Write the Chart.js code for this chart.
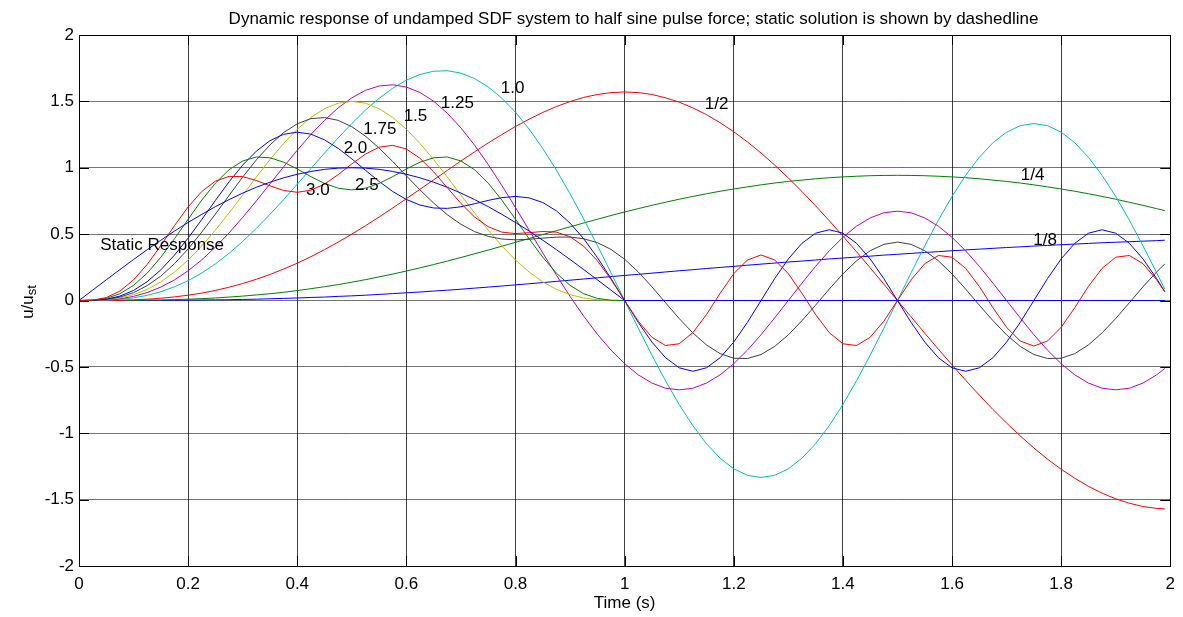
<!DOCTYPE html>
<html>
<head>
<meta charset="utf-8">
<title>Half sine pulse response</title>
<script src="https://cdn.jsdelivr.net/npm/chart.js@4.4.1/dist/chart.umd.min.js"></script>
<style>
  body { margin: 0; background: #fff; }
  #wrap { width: 1183px; height: 617px; }
</style>
</head>
<body>
<div id="wrap"><canvas id="chart"></canvas></div>
<script>
// Tiempo (s)
const times = [0, 0.025, 0.05, 0.075, 0.1, 0.125, 0.15, 0.175, 0.2, 0.225, 0.25, 0.275, 0.3, 0.325, 0.35, 0.375, 0.4, 0.425, 0.45, 0.475,
  0.5, 0.525, 0.55, 0.575, 0.6, 0.625, 0.65, 0.675, 0.7, 0.725, 0.75, 0.775, 0.8, 0.825, 0.85, 0.875, 0.9, 0.925, 0.95, 0.975,
  1, 1.025, 1.05, 1.075, 1.1, 1.125, 1.15, 1.175, 1.2, 1.225, 1.25, 1.275, 1.3, 1.325, 1.35, 1.375, 1.4, 1.425, 1.45, 1.475,
  1.5, 1.525, 1.55, 1.575, 1.6, 1.625, 1.65, 1.675, 1.7, 1.725, 1.75, 1.775, 1.8, 1.825, 1.85, 1.875, 1.9, 1.925, 1.95, 1.975, 1.99];

// u/ust para cada td/Tn
const r18 = [0, 0, 0, 0, 0, 0.001, 0.001, 0.002, 0.003, 0.004, 0.005, 0.006, 0.008, 0.010, 0.013, 0.016, 0.019, 0.023, 0.026, 0.031,
  0.035, 0.040, 0.046, 0.052, 0.058, 0.064, 0.071, 0.078, 0.085, 0.093, 0.101, 0.109, 0.118, 0.126, 0.135, 0.144, 0.153, 0.162, 0.171, 0.180,
  0.189, 0.197, 0.206, 0.215, 0.224, 0.232, 0.241, 0.249, 0.257, 0.266, 0.274, 0.282, 0.290, 0.297, 0.305, 0.313, 0.320, 0.327, 0.334, 0.342,
  0.348, 0.355, 0.362, 0.368, 0.375, 0.381, 0.387, 0.393, 0.399, 0.404, 0.410, 0.415, 0.420, 0.425, 0.430, 0.435, 0.439, 0.443, 0.447, 0.451, 0.454];
const r14 = [0, 0, 0, 0.001, 0.001, 0.003, 0.004, 0.007, 0.010, 0.014, 0.019, 0.026, 0.033, 0.042, 0.051, 0.062, 0.075, 0.089, 0.104, 0.120,
  0.138, 0.157, 0.178, 0.199, 0.222, 0.246, 0.271, 0.297, 0.324, 0.352, 0.380, 0.409, 0.438, 0.467, 0.497, 0.526, 0.555, 0.584, 0.612, 0.640,
  0.667, 0.692, 0.717, 0.740, 0.763, 0.784, 0.804, 0.823, 0.840, 0.856, 0.871, 0.885, 0.897, 0.907, 0.917, 0.925, 0.931, 0.936, 0.940, 0.942,
  0.943, 0.942, 0.940, 0.936, 0.931, 0.925, 0.917, 0.907, 0.897, 0.885, 0.871, 0.856, 0.840, 0.823, 0.804, 0.784, 0.763, 0.740, 0.717, 0.692, 0.677];
const r12 = [0, 0, 0.001, 0.002, 0.005, 0.010, 0.017, 0.027, 0.040, 0.056, 0.076, 0.100, 0.128, 0.160, 0.196, 0.237, 0.281, 0.330, 0.383, 0.440,
  0.500, 0.563, 0.629, 0.697, 0.767, 0.838, 0.909, 0.980, 1.051, 1.120, 1.187, 1.250, 1.311, 1.366, 1.417, 1.461, 1.499, 1.530, 1.552, 1.566,
  1.571, 1.566, 1.552, 1.527, 1.494, 1.451, 1.400, 1.339, 1.271, 1.195, 1.111, 1.020, 0.923, 0.821, 0.713, 0.601, 0.485, 0.367, 0.246, 0.123,
  0, -0.123, -0.246, -0.367, -0.485, -0.601, -0.713, -0.821, -0.923, -1.020, -1.111, -1.195, -1.271, -1.339, -1.400, -1.451, -1.494, -1.527, -1.552, -1.566, -1.570];
const r10 = [0, 0, 0.003, 0.009, 0.020, 0.039, 0.066, 0.103, 0.150, 0.207, 0.276, 0.355, 0.445, 0.543, 0.649, 0.760, 0.876, 0.994, 1.111, 1.225,
  1.333, 1.434, 1.523, 1.599, 1.660, 1.703, 1.727, 1.731, 1.713, 1.672, 1.609, 1.524, 1.418, 1.291, 1.145, 0.982, 0.804, 0.614, 0.415, 0.209,
  0, -0.209, -0.412, -0.605, -0.784, -0.943, -1.079, -1.188, -1.268, -1.317, -1.333, -1.317, -1.268, -1.188, -1.079, -0.943, -0.784, -0.605, -0.412, -0.209,
  0, 0.209, 0.412, 0.605, 0.784, 0.943, 1.079, 1.188, 1.268, 1.317, 1.333, 1.317, 1.268, 1.188, 1.079, 0.943, 0.784, 0.605, 0.412, 0.209, 0.084];
const r125 = [0, 0.001, 0.004, 0.013, 0.031, 0.060, 0.101, 0.155, 0.224, 0.306, 0.402, 0.509, 0.626, 0.750, 0.879, 1.007, 1.132, 1.251, 1.358, 1.451,
  1.527, 1.583, 1.616, 1.625, 1.608, 1.567, 1.501, 1.411, 1.300, 1.170, 1.024, 0.866, 0.700, 0.529, 0.358, 0.191, 0.031, -0.118, -0.254, -0.374,
  -0.476, -0.560, -0.622, -0.661, -0.673, -0.661, -0.622, -0.560, -0.476, -0.374, -0.258, -0.131, 0, 0.131, 0.258, 0.374, 0.476, 0.560, 0.622, 0.661,
  0.673, 0.661, 0.622, 0.560, 0.476, 0.374, 0.258, 0.131, 0, -0.131, -0.258, -0.374, -0.476, -0.560, -0.622, -0.661, -0.673, -0.661, -0.622, -0.560, -0.512];
const r15 = [0, 0.001, 0.006, 0.019, 0.044, 0.084, 0.140, 0.214, 0.305, 0.411, 0.530, 0.660, 0.794, 0.930, 1.061, 1.183, 1.290, 1.379, 1.445, 1.486,
  1.500, 1.486, 1.445, 1.379, 1.290, 1.183, 1.061, 0.930, 0.794, 0.660, 0.530, 0.411, 0.305, 0.214, 0.140, 0.084, 0.044, 0.019, 0.006, 0.001,
  0, 0, 0, 0, 0, 0, 0, 0, 0, 0, 0, 0, 0, 0, 0, 0, 0, 0, 0, 0,
  0, 0, 0, 0, 0, 0, 0, 0, 0, 0, 0, 0, 0, 0, 0, 0, 0, 0, 0, 0, 0];
const r175 = [0, 0.001, 0.008, 0.026, 0.059, 0.112, 0.184, 0.277, 0.388, 0.515, 0.651, 0.791, 0.930, 1.059, 1.172, 1.265, 1.331, 1.370, 1.378, 1.357,
  1.309, 1.238, 1.148, 1.047, 0.939, 0.833, 0.734, 0.646, 0.574, 0.519, 0.483, 0.463, 0.457, 0.461, 0.470, 0.477, 0.478, 0.465, 0.436, 0.385,
  0.311, 0.215, 0.103, -0.017, -0.136, -0.244, -0.335, -0.400, -0.435, -0.437, -0.407, -0.346, -0.259, -0.152, -0.035, 0.086, 0.200, 0.299, 0.375, 0.423,
  0.440, 0.423, 0.375, 0.299, 0.200, 0.086, -0.035, -0.152, -0.259, -0.346, -0.407, -0.437, -0.435, -0.400, -0.335, -0.244, -0.136, -0.017, 0.103, 0.215, 0.275];
const r20 = [0, 0.001, 0.010, 0.033, 0.076, 0.142, 0.231, 0.342, 0.470, 0.610, 0.754, 0.894, 1.020, 1.125, 1.204, 1.252, 1.268, 1.253, 1.210, 1.146,
  1.067, 0.981, 0.897, 0.821, 0.761, 0.719, 0.697, 0.694, 0.706, 0.729, 0.754, 0.775, 0.784, 0.773, 0.738, 0.675, 0.583, 0.465, 0.324, 0.166,
  0, -0.165, -0.313, -0.431, -0.507, -0.533, -0.507, -0.431, -0.313, -0.165, 0, 0.165, 0.313, 0.431, 0.507, 0.533, 0.507, 0.431, 0.313, 0.165,
  0, -0.165, -0.313, -0.431, -0.507, -0.533, -0.507, -0.431, -0.313, -0.165, 0, 0.165, 0.313, 0.431, 0.507, 0.533, 0.507, 0.431, 0.313, 0.165, 0.067];
const r25 = [0, 0.002, 0.016, 0.051, 0.114, 0.206, 0.326, 0.465, 0.612, 0.756, 0.884, 0.985, 1.051, 1.081, 1.075, 1.042, 0.991, 0.933, 0.882, 0.846,
  0.833, 0.846, 0.882, 0.933, 0.991, 1.042, 1.075, 1.081, 1.051, 0.985, 0.884, 0.756, 0.612, 0.465, 0.326, 0.206, 0.114, 0.051, 0.016, 0.002,
  0, 0, 0, 0, 0, 0, 0, 0, 0, 0, 0, 0, 0, 0, 0, 0, 0, 0, 0, 0,
  0, 0, 0, 0, 0, 0, 0, 0, 0, 0, 0, 0, 0, 0, 0, 0, 0, 0, 0, 0, 0];
const r30 = [0, 0.003, 0.022, 0.071, 0.155, 0.272, 0.414, 0.564, 0.705, 0.821, 0.899, 0.935, 0.933, 0.904, 0.864, 0.829, 0.815, 0.831, 0.877, 0.948,
  1.029, 1.103, 1.155, 1.169, 1.141, 1.071, 0.969, 0.850, 0.731, 0.629, 0.556, 0.515, 0.504, 0.511, 0.520, 0.515, 0.481, 0.409, 0.300, 0.159,
  0, -0.156, -0.277, -0.339, -0.326, -0.242, -0.106, 0.054, 0.202, 0.305, 0.343, 0.305, 0.202, 0.054, -0.106, -0.242, -0.326, -0.339, -0.277, -0.156,
  0, 0.156, 0.277, 0.339, 0.326, 0.242, 0.106, -0.054, -0.202, -0.305, -0.343, -0.305, -0.202, -0.054, 0.106, 0.242, 0.326, 0.339, 0.277, 0.156, 0.064];
const staticResp = [0, 0.078, 0.156, 0.233, 0.309, 0.383, 0.454, 0.523, 0.588, 0.649, 0.707, 0.760, 0.809, 0.853, 0.891, 0.924, 0.951, 0.972, 0.988, 0.997,
  1, 0.997, 0.988, 0.972, 0.951, 0.924, 0.891, 0.853, 0.809, 0.760, 0.707, 0.649, 0.588, 0.523, 0.454, 0.383, 0.309, 0.233, 0.156, 0.078,
  0, 0, 0, 0, 0, 0, 0, 0, 0, 0, 0, 0, 0, 0, 0, 0, 0, 0, 0, 0,
  0, 0, 0, 0, 0, 0, 0, 0, 0, 0, 0, 0, 0, 0, 0, 0, 0, 0, 0, 0, 0];

const seriesNames = ["1/8", "1/4", "1/2", "1.0", "1.25", "1.5", "1.75", "2.0", "2.5", "3.0", "Static"];
const seriesValues = [r18, r14, r12, r10, r125, r15, r175, r20, r25, r30, staticResp];
const seriesColors = ["#0000ff", "#008000", "#ff0000", "#00bfbf", "#bf00bf", "#bfbf00", "#404040", "#0000ff", "#008000", "#ff0000", "#0000ff"];

// Etiquetas sobre las curvas (posición en unidades de los ejes)
const labelTexts = ["Static Response", "3.0", "2.5", "2.0", "1.75", "1.5", "1.25", "1.0", "1/2", "1/4", "1/8"];
const labelX = [0.039, 0.416, 0.506, 0.485, 0.521, 0.595, 0.663, 0.773, 1.147, 1.726, 1.749];
const labelY = [0.418, 0.832, 0.865, 1.146, 1.29, 1.385, 1.485, 1.598, 1.48, 0.94, 0.456];

const titleText = "Dynamic response of undamped SDF system to half sine pulse force; static solution is shown by dashedline";

const FONT = "'Liberation Sans', Arial, sans-serif";

// Caja, marcas interiores, textos, título y título del eje y (con subíndice)
const matlabAxes = {
  id: "matlabAxes",
  afterDatasetsDraw(chart) {
    const { ctx, chartArea: a, scales: { x, y } } = chart;
    ctx.save();
    ctx.strokeStyle = "#000";
    ctx.lineWidth = 1;
    ctx.beginPath();
    x.ticks.forEach((t) => {
      const px = Math.round(x.getPixelForValue(t.value)) + 0.5;
      ctx.moveTo(px, a.bottom); ctx.lineTo(px, a.bottom - 10);
      ctx.moveTo(px, a.top); ctx.lineTo(px, a.top + 10);
    });
    y.ticks.forEach((t) => {
      const py = Math.round(y.getPixelForValue(t.value)) + 0.5;
      ctx.moveTo(a.left, py); ctx.lineTo(a.left + 10, py);
      ctx.moveTo(a.right, py); ctx.lineTo(a.right - 10, py);
    });
    ctx.stroke();
    ctx.strokeRect(Math.round(a.left) + 0.5, Math.round(a.top) + 0.5, Math.round(a.right - a.left), Math.round(a.bottom - a.top));

    ctx.fillStyle = "#000";
    ctx.font = "17px " + FONT;
    ctx.textBaseline = "middle";
    ctx.textAlign = "left";
    labelTexts.forEach((s, i) => {
      ctx.fillText(s, x.getPixelForValue(labelX[i]), y.getPixelForValue(labelY[i]));
    });
    ctx.restore();
  },
  afterDraw(chart) {
    const { ctx } = chart;
    ctx.save();
    ctx.fillStyle = "#000";
    ctx.font = "17px " + FONT;
    ctx.textAlign = "center";
    ctx.textBaseline = "alphabetic";
    ctx.fillText(titleText, 633.5, 24);

    ctx.textAlign = "left";
    ctx.translate(33, 302);
    ctx.rotate(-Math.PI / 2);
    ctx.font = "17px " + FONT;
    const w1 = ctx.measureText("u/u").width;
    ctx.font = "13px " + FONT;
    const w2 = ctx.measureText("st").width;
    const start = -(w1 + w2) / 2;
    ctx.font = "17px " + FONT;
    ctx.fillText("u/u", start, 0);
    ctx.font = "13px " + FONT;
    ctx.fillText("st", start + w1, 3);
    ctx.restore();
  }
};

const datasets = seriesValues.map((vals, i) => ({
  label: seriesNames[i],
  data: times.map((t, j) => ({ x: t, y: vals[j] })),
  borderColor: seriesColors[i],
  borderWidth: 1,
  pointRadius: 0,
  tension: 0,
  fill: false,
  order: 20 - i
}));

new Chart(document.getElementById("chart"), {
  type: "line",
  data: { datasets },
  options: {
    responsive: true,
    maintainAspectRatio: false,
    devicePixelRatio: 1,
    animation: false,
    events: [],
    layout: { padding: { left: 0, right: 12, top: 35, bottom: 0 } },
    plugins: {
      legend: { display: false },
      tooltip: { enabled: false },
      title: { display: false }
    },
    scales: {
      x: {
        type: "linear",
        min: 0,
        max: 2,
        afterFit: (scale) => { scale.height = 51; },
        ticks: {
          stepSize: 0.2,
          color: "#000",
          padding: 8,
          maxRotation: 0,
          font: { family: FONT, size: 17 },
          callback: (v) => String(Math.round(v * 10) / 10)
        },
        grid: { color: "rgba(0,0,0,0.75)", drawTicks: false },
        border: { display: false },
        title: {
          display: true,
          text: "Time (s)",
          color: "#000",
          font: { family: FONT, size: 17 },
          padding: { top: 0, bottom: 3 }
        }
      },
      y: {
        min: -2,
        max: 2,
        afterFit: (scale) => { scale.width = 79; },
        ticks: {
          stepSize: 0.5,
          color: "#000",
          padding: 5,
          font: { family: FONT, size: 17 },
          callback: (v) => String(v)
        },
        grid: { color: "rgba(0,0,0,0.55)", drawTicks: false },
        border: { display: false }
      }
    }
  },
  plugins: [matlabAxes]
});
</script>
</body>
</html>
